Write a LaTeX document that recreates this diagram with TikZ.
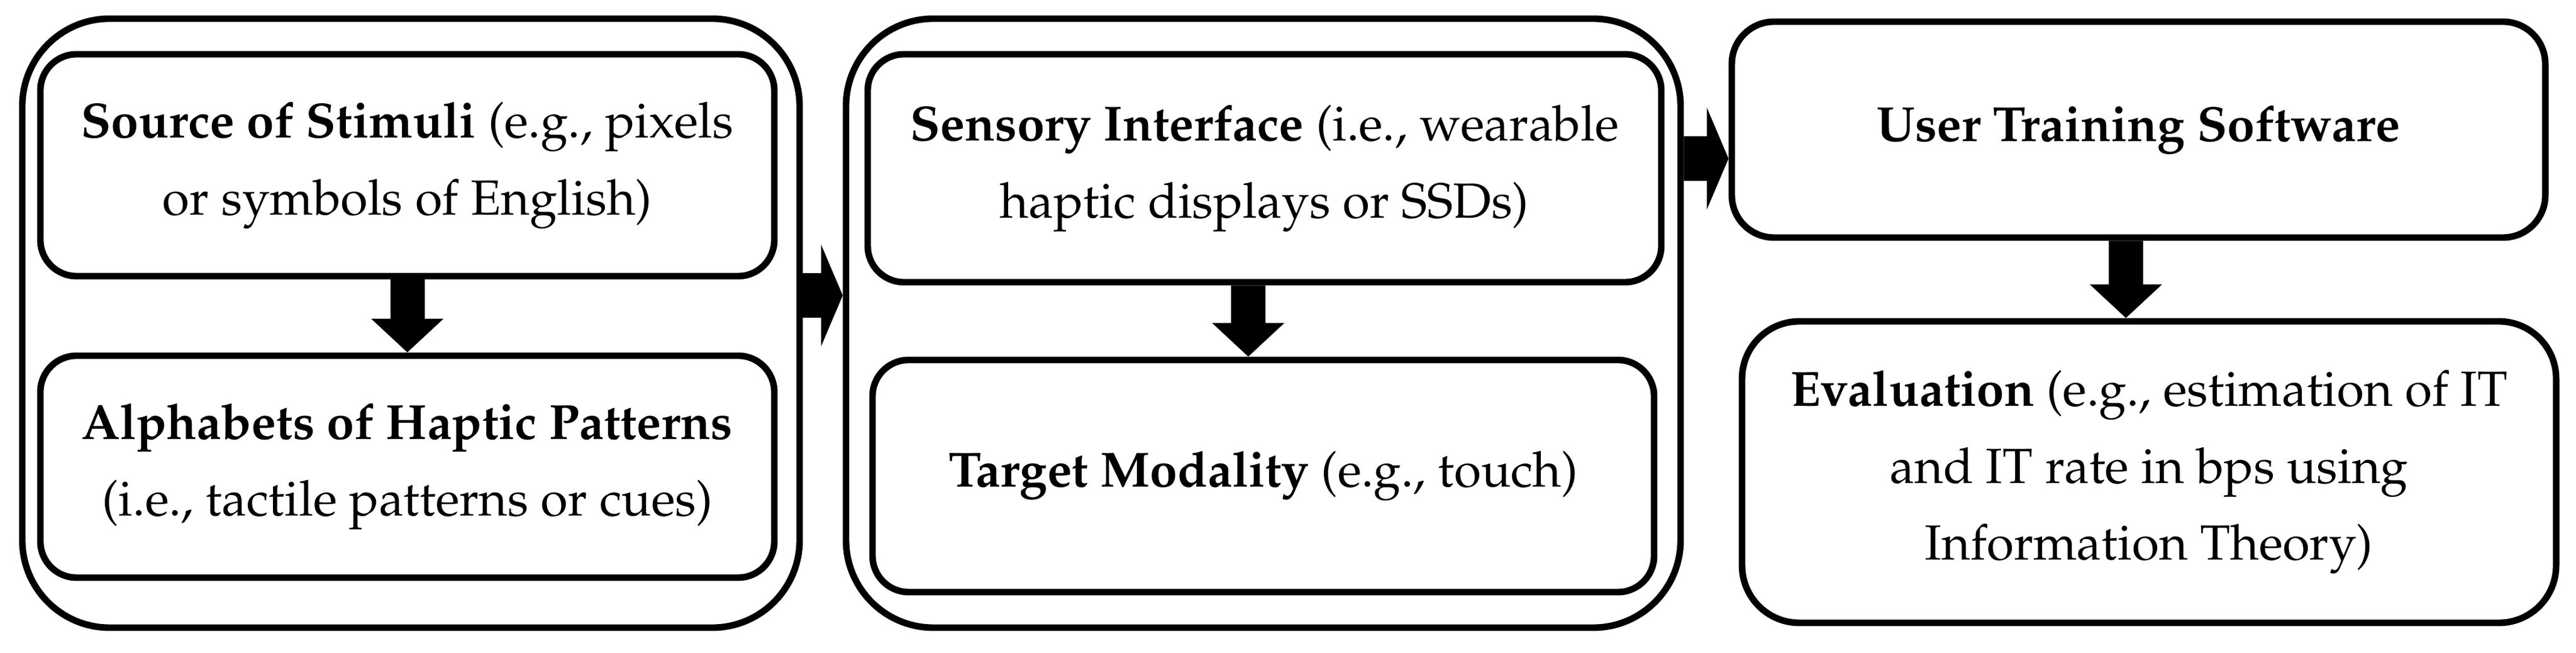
\documentclass[tikz,border=0pt]{standalone}
\usepackage[T1]{fontenc}
\usepackage{mathpazo}
\usepackage{tikz}
\usetikzlibrary{arrows.meta}
\tikzset{
  group/.style={draw, line width=3.1pt, rounded corners=14.5mm, inner sep=0pt},
  stage/.style={draw, line width=3.1pt, rounded corners=6mm, align=center, inner sep=0pt,
    font=\fontsize{23.3}{36.4}\selectfont},
  fatdown/.style={line width=5.7mm, line cap=butt, -{Triangle[length=5.6mm,width=11.7mm]}},
  fatright/.style={line width=7.4mm, line cap=butt, -{Triangle[length=3.6mm,width=16.8mm]}}
}

\begin{document}
\begin{tikzpicture}[line cap=round,line join=round,x=1cm,y=1cm]
\useasboundingbox (0,0) rectangle (42.75,10.83);
                % first group
                \node [group, minimum width=12.90cm, minimum height=10.10cm] (stimgroup) at (6.82,5.47) {};
                \node [stage, minimum width=12.18cm, minimum height=3.68cm] (source) at (6.76,8.09) {\textbf{Source of Stimuli} (e.g., pixels\\or symbols of English)};
                \node [stage, minimum width=12.18cm, minimum height=3.68cm] (alphabets) at (6.76,3.09) {\textbf{Alphabets of Haptic Patterns}\\(i.e., tactile patterns or cues)};
                % second group
                \node [group, minimum width=13.85cm, minimum height=10.10cm] (ifacegroup) at (20.965,5.47) {};
                \node [stage, minimum width=13.17cm, minimum height=3.78cm] (sensory) at (20.985,8.04) {\textbf{Sensory Interface} (i.e., wearable\\haptic displays or SSDs)};
                \node [stage, minimum width=12.97cm, minimum height=3.85cm] (target) at (20.965,2.935) {\textbf{Target Modality} (e.g., touch)};
                % right column
                \node [stage, rounded corners=7mm, minimum width=13.50cm, minimum height=3.58cm] (training) at (35.49,8.68) {\textbf{User Training Software}};
                \node [stage, rounded corners=9.5mm, minimum width=13.51cm, minimum height=5.00cm] (evaluation) at (35.665,3.00) {\textbf{Evaluation} (e.g., estimation of IT\\and IT rate in bps using\\Information Theory)};
                % arrows
                \draw [fatdown] (source.south) -- (alphabets.north);
                \draw [fatdown] ([xshift=-2.7mm]sensory.south) -- ([xshift=-2.5mm]target.north);
                \draw [fatdown] ([xshift=-2.1mm]training.south) -- ([xshift=-3.85mm]evaluation.north);
                \draw [fatright] ([yshift=4.6mm]stimgroup.east) -- ([yshift=4.6mm]ifacegroup.west);
                \draw [fatright] ([yshift=27.3mm]ifacegroup.east) -- ([yshift=-4.8mm]training.west);
\end{tikzpicture}
\end{document}
